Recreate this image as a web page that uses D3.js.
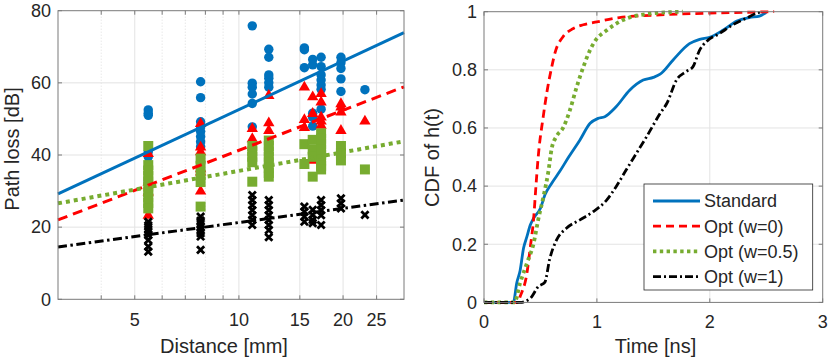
<!DOCTYPE html>
<meta charset="utf-8">
<html>
<head>
<script src="https://d3js.org/d3.v7.min.js"></script>
<style>
    body { margin: 0; background: #fff; }
    svg text { font-family: "Liberation Sans", Arial, sans-serif; fill: #262626; }
</style>
</head>
<body>
<svg id="chart" width="831" height="362"></svg>
<script>

// ---- left panel data: path loss vs distance ----
var distances = [5.47, 7.75, 10.93, 12.2, 15.46, 16.34, 17.28, 19.72, 23.13]

var lossStandard = [
    [52.5, 51.6, 51, 40.9, 39.5, 32.6],
    [60.3, 55.9, 49.2, 47.8, 46.5, 45.1, 43.7, 42.3],
    [75.8, 59.9, 58.8, 56.9, 54.3, 47.8],
    [69.3, 67.1, 62.2, 61.3, 60, 58.8],
    [69.7, 69.2, 64.2],
    [66.5, 65, 51.6, 50.4, 48],
    [67.1, 64.5, 62.2, 60.8, 59.4, 58.2, 52.7],
    [67.1, 65.6, 64, 61.1, 57.6],
    [58.1]
]
var lossOpt0 = [
    [40.5, 32.6, 29.8, 23.4],
    [48.8, 42.3, 41, 36.3, 35.4, 30.1],
    [47.4, 44.6],
    [56.6, 49, 46.9],
    [58.9, 49.9, 47.7],
    [56.2, 51.6, 38.6],
    [57.1, 54.8, 50.6, 49.5, 48.3],
    [54.3, 53.4, 52, 46.9],
    [49.5]
]
var lossOpt05 = [
    [42.5, 37.2, 35.7, 34.2, 32.7, 31.2, 29.7, 28.2, 26.7, 25.2],
    [39, 37, 34.5, 32.5, 25.7],
    [42.5, 41, 39.5, 38, 32.6],
    [44, 42.5, 41, 39.5, 38, 36.5, 35, 34],
    [43, 37.5],
    [44.2, 41.5, 39.5, 34],
    [46, 44.5, 43, 41.5, 40, 38.5, 37, 36],
    [42.5, 40.5, 38.5],
    [36]
]
var lossOpt1 = [
    [21.5, 20.5, 19.5, 18.7, 17.8, 16.4, 14.6, 13.2],
    [22.9, 21.8, 21, 20.1, 19.2, 18.3, 17.4, 13.7],
    [28.9, 27.5, 26.1, 24.7, 23.3, 22, 20.6],
    [27.5, 26.1, 24.7, 23.3, 22, 20.6, 19.2, 17.2],
    [25.7, 24.3, 22.9, 21.5],
    [24.8, 23.4, 22, 21.1],
    [27.5, 26.1, 24.7, 23.3, 20.6],
    [28, 26.6, 25.2],
    [23.4]
]
// fitted lines, value at d = 3 mm and d = 30 mm
var fitAt3 = [29.2, 22, 26.6, 14.5]
var fitAt30 = [73.9, 58.9, 43.8, 27.5]

var distTicks = [5, 10, 15, 20, 25]
var distMinor = [4, 6, 7, 8, 9]
var lossTicks = [0, 20, 40, 60, 80]

// ---- right panel data: CDF of h(t) ----
var tStandard = [0, 0.26, 0.29, 0.32, 0.35, 0.38, 0.41, 0.44, 0.5, 0.54, 0.6, 0.67, 0.75, 0.85, 0.94, 1.01, 1.07, 1.17, 1.29, 1.41, 1.5, 1.56, 1.675, 1.82, 1.91, 2.0, 2.12, 2.24, 2.35, 2.44, 2.5]
var cdfStandard = [0, 0, 0.067, 0.11, 0.186, 0.226, 0.266, 0.29, 0.324, 0.37, 0.41, 0.45, 0.5, 0.559, 0.616, 0.633, 0.639, 0.673, 0.73, 0.765, 0.774, 0.785, 0.834, 0.89, 0.905, 0.912, 0.937, 0.968, 0.98, 0.985, 0.997]
var tOpt0 = [0, 0.3, 0.32, 0.38, 0.41, 0.44, 0.46, 0.48, 0.525, 0.56, 0.6, 0.63, 0.7, 0.78, 0.88, 1.0, 1.2, 1.5, 2.0, 2.57]
var cdfOpt0 = [0, 0, 0.02, 0.1, 0.19, 0.29, 0.4, 0.5, 0.64, 0.73, 0.81, 0.86, 0.914, 0.94, 0.955, 0.965, 0.98, 0.988, 0.995, 1]
var tOpt05 = [0, 0.27, 0.32, 0.38, 0.44, 0.48, 0.53, 0.57, 0.6, 0.64, 0.7, 0.76, 0.82, 0.88, 0.93, 0.98, 1.09, 1.23, 1.44, 1.76]
var cdfOpt05 = [0, 0, 0.067, 0.135, 0.204, 0.284, 0.37, 0.45, 0.53, 0.57, 0.6, 0.66, 0.74, 0.81, 0.86, 0.897, 0.937, 0.971, 0.992, 1]
var tOpt1 = [0, 0.32, 0.41, 0.48, 0.54, 0.58, 0.643, 0.73, 0.85, 0.967, 1.086, 1.17, 1.26, 1.35, 1.44, 1.56, 1.62, 1.705, 1.79, 1.85, 1.91, 1.97, 2.09, 2.2, 2.32, 2.41, 2.46]
var cdfOpt1 = [0, 0, 0.014, 0.054, 0.07, 0.146, 0.215, 0.255, 0.284, 0.312, 0.352, 0.398, 0.456, 0.513, 0.57, 0.65, 0.685, 0.765, 0.794, 0.81, 0.868, 0.897, 0.926, 0.954, 0.977, 0.994, 1]

var timeTicks = [0, 1, 2, 3]
var cdfTicks = [0, 0.2, 0.4, 0.6, 0.8, 1]
var seriesNames = ["Standard", "Opt (w=0)", "Opt (w=0.5)", "Opt (w=1)"]

// ---- styles ----
var colors = ["#0072BD", "#FF0000", "#77AC30", "#000000"]
var dashes = [null, "8,5", "3.4,3.4", "8,3,2,3"]
var widths = [2.8, 2.8, 3.8, 2.8]
var axisColor = "#7a7a7a"
var gridColor = "#e3e3e3"
var tickLen = 4

var svg = d3.select("#chart")
svg.append("rect").attr("width", 831).attr("height", 362).attr("fill", "#fff")

// ================= left panel =================
var L = {left: 58, right: 404, top: 10.7, bottom: 299.3}
var xL = d3.scaleLog().domain([3, 30]).range([L.left, L.right])
var yL = d3.scaleLinear().domain([0, 80]).range([L.bottom, L.top])
var gL = svg.append("g")

// grid
gL.selectAll("minor").data(distMinor).enter().append("line")
    .attr("x1", d => xL(d)).attr("x2", d => xL(d))
    .attr("y1", L.top).attr("y2", L.bottom)
    .attr("stroke", "#d6d6d6").attr("stroke-width", 0.8).attr("stroke-dasharray", "1,2")
gL.selectAll("vgrid").data(distTicks).enter().append("line")
    .attr("x1", d => xL(d)).attr("x2", d => xL(d))
    .attr("y1", L.top).attr("y2", L.bottom)
    .attr("stroke", gridColor).attr("stroke-width", 1)
gL.selectAll("hgrid").data(lossTicks.slice(1, -1)).enter().append("line")
    .attr("x1", L.left).attr("x2", L.right)
    .attr("y1", d => yL(d)).attr("y2", d => yL(d))
    .attr("stroke", gridColor).attr("stroke-width", 1)

// markers
function flatten(series) {
    var out = []
    series.forEach((vals, i) => vals.forEach(v => out.push({d: distances[i], v: v})))
    return out
}
var circle = d3.symbol().type(d3.symbolCircle).size(70)
var triangle = d3.symbol().type(d3.symbolTriangle).size(56)
var square = d3.symbol().type(d3.symbolSquare).size(100)

gL.selectAll("pStd").data(flatten(lossStandard)).enter().append("path")
    .attr("d", circle)
    .attr("transform", p => "translate(" + xL(p.d) + "," + yL(p.v) + ")")
    .attr("fill", colors[0])
gL.selectAll("pOpt0").data(flatten(lossOpt0)).enter().append("path")
    .attr("d", triangle)
    .attr("transform", p => "translate(" + xL(p.d) + "," + (yL(p.v) + 0.5) + ")")
    .attr("fill", colors[1])
gL.selectAll("pOpt05").data(flatten(lossOpt05)).enter().append("path")
    .attr("d", square)
    .attr("transform", p => "translate(" + xL(p.d) + "," + yL(p.v) + ")")
    .attr("fill", colors[2])
gL.selectAll("pOpt1").data(flatten(lossOpt1)).enter().append("path")
    .attr("d", "M-3.6,-3.6L3.6,3.6M-3.6,3.6L3.6,-3.6")
    .attr("transform", p => "translate(" + xL(p.d) + "," + yL(p.v) + ")")
    .attr("stroke", colors[3]).attr("stroke-width", 2.8).attr("fill", "none")

// fitted lines
fitAt3.forEach(function(v, i) {
    gL.append("line")
        .attr("x1", xL(3)).attr("y1", yL(v))
        .attr("x2", xL(30)).attr("y2", yL(fitAt30[i]))
        .attr("stroke", colors[i])
        .attr("stroke-width", i == 2 ? 4 : 3)
        .attr("stroke-dasharray", i == 2 ? "4,4" : (i == 1 ? "10,6" : (i == 3 ? "9,3.5,2.5,3.5" : null)))
})

// box + ticks
function drawFrame(g, R, xs, xt, ys, yt) {
    g.append("rect").attr("x", R.left).attr("y", R.top)
        .attr("width", R.right - R.left).attr("height", R.bottom - R.top)
        .attr("fill", "none").attr("stroke", axisColor).attr("stroke-width", 1)
    xt.forEach(function(t) {
        g.append("line").attr("x1", xs(t)).attr("x2", xs(t)).attr("y1", R.bottom).attr("y2", R.bottom - tickLen).attr("stroke", axisColor)
        g.append("line").attr("x1", xs(t)).attr("x2", xs(t)).attr("y1", R.top).attr("y2", R.top + tickLen).attr("stroke", axisColor)
    })
    yt.forEach(function(t) {
        g.append("line").attr("y1", ys(t)).attr("y2", ys(t)).attr("x1", R.left).attr("x2", R.left + tickLen).attr("stroke", axisColor)
        g.append("line").attr("y1", ys(t)).attr("y2", ys(t)).attr("x1", R.right).attr("x2", R.right - tickLen).attr("stroke", axisColor)
    })
}
drawFrame(gL, L, xL, distTicks.concat(distMinor), yL, lossTicks)

gL.selectAll("xlab").data(distTicks).enter().append("text")
    .attr("x", d => xL(d)).attr("y", L.bottom + 27)
    .attr("text-anchor", "middle").attr("font-size", 18).text(d => d)
gL.selectAll("ylab").data(lossTicks).enter().append("text")
    .attr("x", L.left - 7).attr("y", d => yL(d)).attr("dy", "0.35em")
    .attr("text-anchor", "end").attr("font-size", 18).text(d => d)
gL.append("text").attr("x", (L.left + L.right) / 2 - 7).attr("y", 353)
    .attr("text-anchor", "middle").attr("font-size", 20).text("Distance [mm]")
gL.append("text").attr("transform", "translate(19,149) rotate(-90)")
    .attr("text-anchor", "middle").attr("font-size", 20).text("Path loss [dB]")

// ================= right panel =================
var R = {left: 484, right: 822.7, top: 11.7, bottom: 302.4}
var xR = d3.scaleLinear().domain([0, 3]).range([R.left, R.right])
var yR = d3.scaleLinear().domain([0, 1]).range([R.bottom, R.top])
var gR = svg.append("g")

gR.selectAll("vgrid").data(timeTicks.slice(1, -1)).enter().append("line")
    .attr("x1", d => xR(d)).attr("x2", d => xR(d))
    .attr("y1", R.top).attr("y2", R.bottom)
    .attr("stroke", gridColor)
gR.selectAll("hgrid").data(cdfTicks.slice(1, -1)).enter().append("line")
    .attr("x1", R.left).attr("x2", R.right)
    .attr("y1", d => yR(d)).attr("y2", d => yR(d))
    .attr("stroke", gridColor)

var curves = [[tStandard, cdfStandard], [tOpt0, cdfOpt0], [tOpt05, cdfOpt05], [tOpt1, cdfOpt1]]
var line = d3.line().x(p => xR(p[0])).y(p => yR(p[1])).curve(d3.curveMonotoneX)
curves.forEach(function(c, i) {
    gR.append("path")
        .attr("d", line(d3.zip(c[0], c[1])))
        .attr("fill", "none")
        .attr("stroke", colors[i])
        .attr("stroke-width", widths[i])
        .attr("stroke-dasharray", dashes[i])
})

drawFrame(gR, R, xR, timeTicks, yR, cdfTicks)

gR.selectAll("xlab").data(timeTicks).enter().append("text")
    .attr("x", d => xR(d)).attr("y", R.bottom + 26)
    .attr("text-anchor", "middle").attr("font-size", 18).text(d => d)
gR.selectAll("ylab").data(cdfTicks).enter().append("text")
    .attr("x", R.left - 7).attr("y", d => yR(d)).attr("dy", "0.35em")
    .attr("text-anchor", "end").attr("font-size", 18).text(d => d)
gR.append("text").attr("x", 655.5).attr("y", 353)
    .attr("text-anchor", "middle").attr("font-size", 20).text("Time [ns]")
gR.append("text").attr("transform", "translate(439,157.5) rotate(-90)")
    .attr("text-anchor", "middle").attr("font-size", 20).text("CDF of h(t)")

// legend
var leg = gR.append("g").attr("transform", "translate(644,184)")
leg.append("rect").attr("width", 168.7).attr("height", 106)
    .attr("fill", "#fff").attr("stroke", "#262626").attr("stroke-width", 0.8)
seriesNames.forEach(function(name, i) {
    var y = 17 + i * 25.2
    leg.append("line").attr("x1", 9).attr("x2", 56).attr("y1", y).attr("y2", y)
        .attr("stroke", colors[i]).attr("stroke-width", widths[i])
        .attr("stroke-dasharray", dashes[i])
    leg.append("text").attr("x", 60).attr("y", y).attr("dy", "0.35em")
        .attr("font-size", 18).text(name)
})
</script>
</body>
</html>
